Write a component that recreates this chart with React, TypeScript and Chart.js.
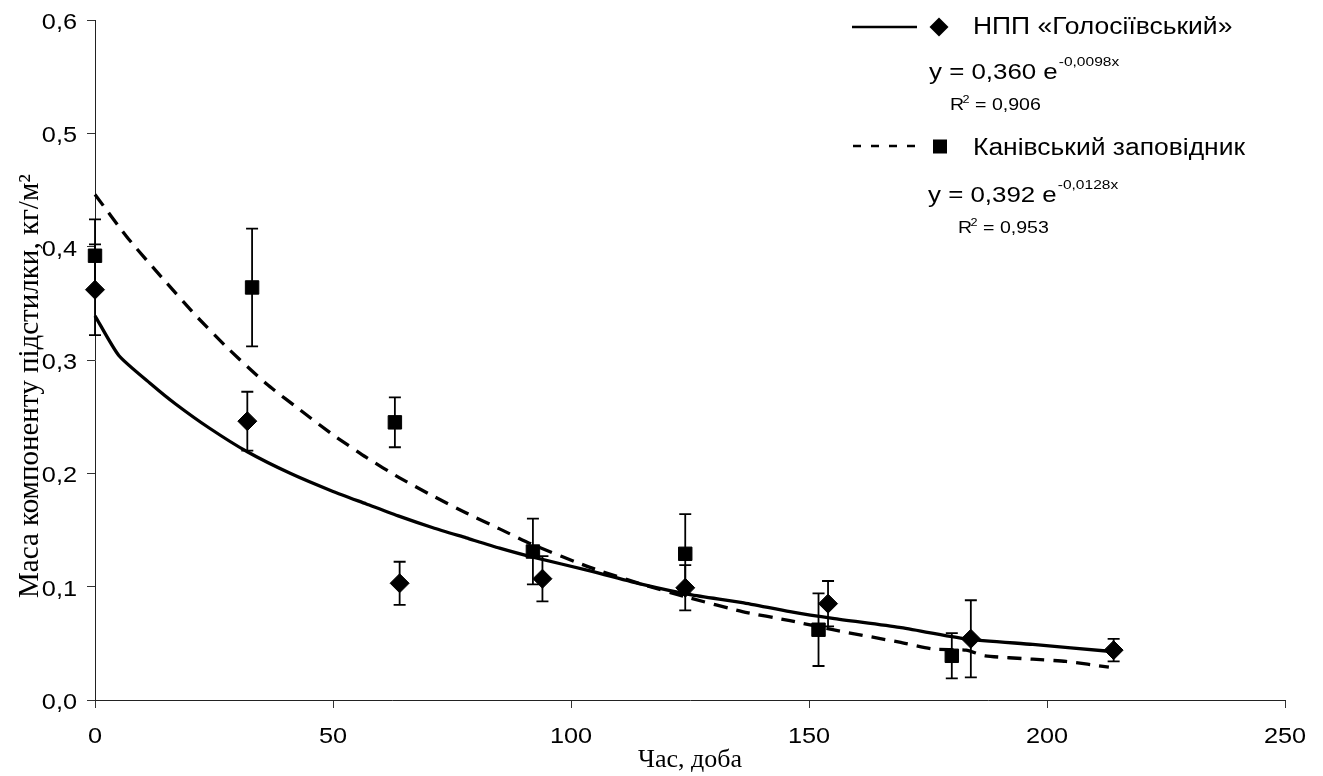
import { useEffect, useRef } from "react";
import { Chart, registerables } from "chart.js";

Chart.register(...registerables);

// НПП «Голосіївський»: sampling day, litter mass (kg/m²) and its error
const golosDays = [0, 32, 64, 94, 124, 154, 184, 214];
const golosMass = [0.362, 0.246, 0.103, 0.107, 0.099, 0.085, 0.054, 0.044];
const golosErr = [0.04, 0.026, 0.019, 0.02, 0.02, 0.02, 0.034, 0.01];

// Канівський заповідник
const kanivDays = [0, 33, 63, 92, 124, 152, 180];
const kanivMass = [0.392, 0.364, 0.245, 0.131, 0.129, 0.062, 0.039];
const kanivErr = [0.032, 0.052, 0.022, 0.029, 0.035, 0.032, 0.02];

// Exponential trend curves as plotted
const golosFitDays = [0, 5, 12, 17, 24, 32, 41, 50, 57, 64, 71, 78, 85, 92, 104, 115, 125, 136, 146, 155, 169, 183, 197, 213];
const golosFitMass = [0.339, 0.304, 0.278, 0.261, 0.24, 0.219, 0.2, 0.184, 0.173, 0.162, 0.152, 0.143, 0.134, 0.126, 0.114, 0.102, 0.093, 0.086, 0.078, 0.072, 0.064, 0.054, 0.049, 0.043];
const kanivFitDays = [0, 7, 14, 21, 28, 36, 44, 50, 57, 64, 71, 78, 85, 92, 104, 115, 125, 136, 146, 155, 169, 176, 183, 187, 197, 204, 213];
const kanivFitMass = [0.446, 0.407, 0.373, 0.34, 0.31, 0.279, 0.253, 0.234, 0.214, 0.196, 0.18, 0.165, 0.151, 0.137, 0.117, 0.102, 0.09, 0.078, 0.07, 0.062, 0.051, 0.045, 0.044, 0.039, 0.036, 0.034, 0.029];

// Axes
const xTickValues = [0, 50, 100, 150, 200, 250];
const yTickValues = [0, 0.1, 0.2, 0.3, 0.4, 0.5, 0.6];
const yTickLabels = ["0,0", "0,1", "0,2", "0,3", "0,4", "0,5", "0,6"];
const xTitle = "Час, доба";
const yTitle = "Маса компоненту підстилки, кг/м²";

// Legend entries and fit statistics
const seriesNames = ["НПП «Голосіївський»", "Канівський заповідник"];
const fitCoef = ["0,360", "0,392"];
const fitExp = ["-0,0098x", "-0,0128x"];
const fitR2 = ["0,906", "0,953"];

const SANS = "'Liberation Sans', Arial, sans-serif";
const SERIF = "'Liberation Serif', 'Times New Roman', serif";
const SX = 1.15; // horizontal widening of lettering

function wideText(
  ctx: CanvasRenderingContext2D,
  text: string,
  x: number,
  y: number,
  font: string,
  align: "left" | "center" | "right" = "left"
): number {
  ctx.save();
  ctx.font = font;
  ctx.textAlign = "left";
  ctx.textBaseline = "alphabetic";
  ctx.fillStyle = "#000";
  const w = ctx.measureText(text).width * SX;
  const x0 = align === "left" ? x : align === "center" ? x - w / 2 : x - w;
  ctx.translate(x0, y);
  ctx.scale(SX, 1);
  ctx.fillText(text, 0, 0);
  ctx.restore();
  return x0 + w;
}

function diamond(ctx: CanvasRenderingContext2D, x: number, y: number, r: number) {
  ctx.beginPath();
  ctx.moveTo(x, y - r);
  ctx.lineTo(x + r, y);
  ctx.lineTo(x, y + r);
  ctx.lineTo(x - r, y);
  ctx.closePath();
  ctx.fill();
}

const errorBarPlugin = {
  id: "errorBars",
  beforeDatasetsDraw(chart: any) {
    chart.$errDrawn = false;
  },
  beforeDatasetDraw(chart: any, args: any) {
    const ds = chart.data.datasets[args.index];
    if (!ds.errors || chart.$errDrawn) return;
    chart.$errDrawn = true;
    const ctx = chart.ctx as CanvasRenderingContext2D;
    const xs = chart.scales.x;
    const ys = chart.scales.y;
    ctx.save();
    ctx.strokeStyle = "#000";
    ctx.lineWidth = 1.8;
    chart.data.datasets.forEach((d: any) => {
      if (!d.errors) return;
      d.data.forEach((p: any, i: number) => {
        const e = d.errors[i];
        const px = xs.getPixelForValue(p.x);
        const top = ys.getPixelForValue(p.y + e);
        const bot = ys.getPixelForValue(p.y - e);
        ctx.beginPath();
        ctx.moveTo(px, top);
        ctx.lineTo(px, bot);
        ctx.moveTo(px - 6, top);
        ctx.lineTo(px + 6, top);
        ctx.moveTo(px - 6, bot);
        ctx.lineTo(px + 6, bot);
        ctx.stroke();
      });
    });
    ctx.restore();
  },
};

const textPlugin = {
  id: "textLayer",
  afterDraw(chart: any) {
    const ctx = chart.ctx as CanvasRenderingContext2D;
    const xs = chart.scales.x;
    const ys = chart.scales.y;
    const area = chart.chartArea;
    const tickFont = `22px ${SANS}`;

    // tick labels
    xs.ticks.forEach((t: any, i: number) => {
      wideText(ctx, String(t.label), xs.getPixelForTick(i), area.bottom + 43, tickFont, "center");
    });
    ys.ticks.forEach((t: any, i: number) => {
      wideText(ctx, String(t.label), 77, ys.getPixelForTick(i) + 9, tickFont, "right");
    });

    // axis titles
    ctx.save();
    ctx.fillStyle = "#000";
    ctx.textAlign = "center";
    ctx.textBaseline = "alphabetic";
    ctx.font = `26px ${SERIF}`;
    ctx.fillText(xTitle, (area.left + area.right) / 2, 767);
    ctx.font = `29px ${SERIF}`;
    ctx.translate(38, 386);
    ctx.rotate(-Math.PI / 2);
    ctx.fillText(yTitle, 0, 0);
    ctx.restore();

    // legend
    ctx.save();
    ctx.strokeStyle = "#000";
    ctx.fillStyle = "#000";
    ctx.lineWidth = 2.5;
    ctx.beginPath();
    ctx.moveTo(852, 27);
    ctx.lineTo(917, 27);
    ctx.stroke();
    ctx.setLineDash([8, 10]);
    ctx.beginPath();
    ctx.moveTo(853, 146);
    ctx.lineTo(918, 146);
    ctx.stroke();
    ctx.setLineDash([]);
    diamond(ctx, 939, 27, 9.5);
    ctx.fillRect(933, 139.5, 14, 14);
    ctx.restore();

    const nameFont = `23px ${SANS}`;
    const eqFont = `22.5px ${SANS}`;
    const supFont = `13.5px ${SANS}`;
    const rFont = `17px ${SANS}`;
    const rSupFont = `11px ${SANS}`;

    const rows = [
      { nameY: 34, eqX: 929, eqY: 79, rX: 950, rY: 110 },
      { nameY: 155, eqX: 928, eqY: 202, rX: 958, rY: 233 },
    ];
    rows.forEach((r, i) => {
      wideText(ctx, seriesNames[i], 973, r.nameY, nameFont);
      const ex = wideText(ctx, `y = ${fitCoef[i]} e`, r.eqX, r.eqY, eqFont);
      wideText(ctx, fitExp[i], ex + 1, r.eqY - 13, supFont);
      const rx = wideText(ctx, "R", r.rX, r.rY, rFont);
      const sx = wideText(ctx, "2", rx - 1.5, r.rY - 7, rSupFont);
      wideText(ctx, ` = ${fitR2[i]}`, sx, r.rY, rFont);
    });
  },
};

export default function App() {
  const canvasRef = useRef<HTMLCanvasElement | null>(null);

  useEffect(() => {
    const canvas = canvasRef.current;
    if (!canvas) return;

    const pts = (xs: number[], ys: number[]) => xs.map((x, i) => ({ x, y: ys[i] }));

    const chart = new Chart(canvas, {
      type: "scatter",
      data: {
        datasets: [
          {
            label: seriesNames[0] + " (trend)",
            data: pts(golosFitDays, golosFitMass),
            showLine: true,
            borderColor: "#000",
            borderWidth: 3.3,
            pointRadius: 0,
            tension: 0.2,
            clip: false,
            order: 2,
          },
          {
            label: seriesNames[1] + " (trend)",
            data: pts(kanivFitDays, kanivFitMass),
            showLine: true,
            borderColor: "#000",
            borderWidth: 3.3,
            borderDash: [14, 9],
            pointRadius: 0,
            tension: 0.2,
            clip: false,
            order: 2,
          },
          {
            label: seriesNames[0],
            data: pts(golosDays, golosMass),
            errors: golosErr,
            pointStyle: "rectRot",
            pointRadius: 9.5,
            backgroundColor: "#000",
            borderColor: "#000",
            borderWidth: 1,
            clip: false,
            order: 1,
          } as any,
          {
            label: seriesNames[1],
            data: pts(kanivDays, kanivMass),
            errors: kanivErr,
            pointStyle: "rect",
            pointRadius: 9.5,
            backgroundColor: "#000",
            borderColor: "#000",
            borderWidth: 1,
            clip: false,
            order: 1,
          } as any,
        ],
      },
      options: {
        animation: false,
        responsive: false,
        devicePixelRatio: 1,
        layout: { padding: { top: 20, right: 38, left: 0, bottom: 0 } },
        plugins: {
          legend: { display: false },
          tooltip: { enabled: false },
        },
        scales: {
          x: {
            type: "linear",
            min: 0,
            max: 250,
            afterBuildTicks: (scale: any) => {
              scale.ticks = xTickValues.map((v) => ({ value: v }));
            },
            afterFit: (scale: any) => {
              scale.height = 76;
            },
            ticks: {
              display: false,
              callback: (v: any) => String(v),
            },
            grid: {
              display: true,
              drawOnChartArea: false,
              drawTicks: true,
              tickLength: 8,
              color: "#333",
              lineWidth: 1,
            },
            border: { display: true, color: "#222", width: 1 },
          },
          y: {
            type: "linear",
            min: 0,
            max: 0.6,
            afterBuildTicks: (scale: any) => {
              scale.ticks = yTickValues.map((v) => ({ value: v }));
            },
            afterFit: (scale: any) => {
              scale.width = 95;
            },
            ticks: {
              display: false,
              callback: (_v: any, i: number) => yTickLabels[i],
            },
            grid: {
              display: true,
              drawOnChartArea: false,
              drawTicks: true,
              tickLength: 8,
              color: "#333",
              lineWidth: 1,
            },
            border: { display: true, color: "#222", width: 1 },
          },
        },
      },
      plugins: [errorBarPlugin, textPlugin],
    } as any);

    return () => chart.destroy();
  }, []);

  return (
    <div style={{ position: "fixed", left: 0, top: 0, width: 1323, height: 776, background: "#fff" }}>
      <canvas ref={canvasRef} width={1323} height={776} style={{ display: "block" }} />
    </div>
  );
}
